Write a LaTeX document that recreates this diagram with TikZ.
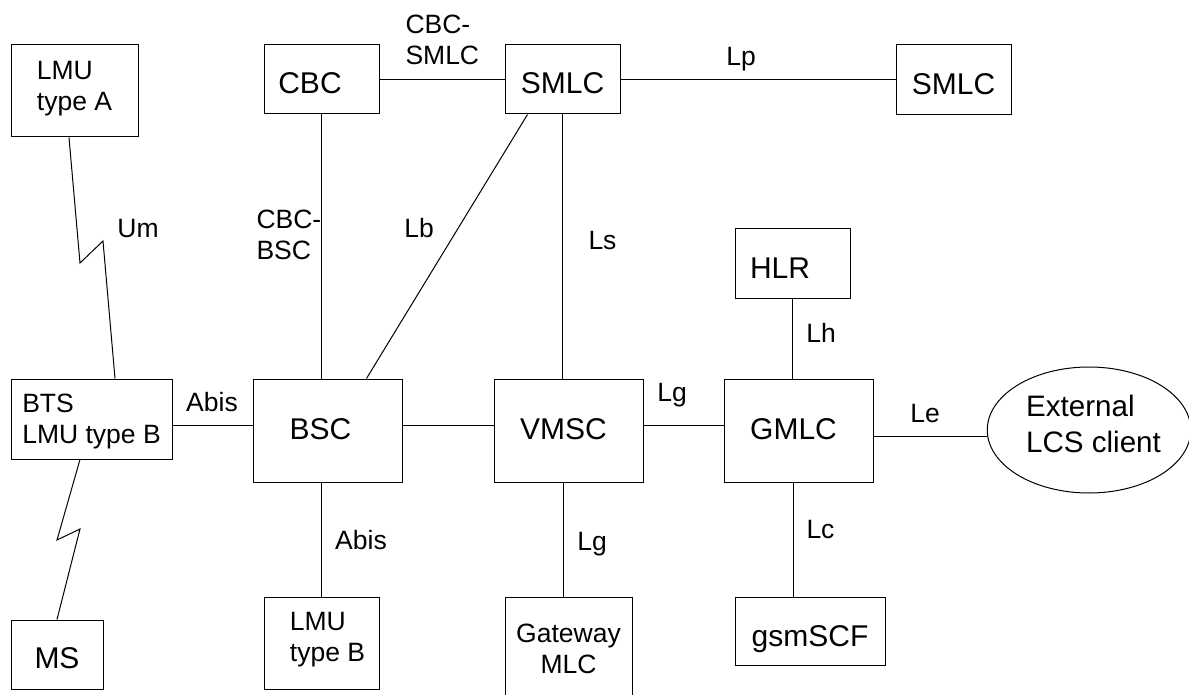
\documentclass[tikz,border=0pt]{standalone}
\usepackage{fontspec}
\setmainfont{Liberation Sans}
\usetikzlibrary{shapes.geometric,calc}
\newcommand{\bigfnt}{\fontsize{30}{34.5}\selectfont}
\newcommand{\smlfnt}{\fontsize{26.5}{31}\selectfont}
\newcommand{\extfnt}{\fontsize{29.6}{35.6}\selectfont}
\begin{document}
\begin{tikzpicture}[x=1pt,y=-1pt,line width=1pt,
  box/.style={draw,rectangle,inner sep=0pt},
  bigbox/.style={box,font=\bigfnt,text height=29pt,text depth=0pt},
  tallbox/.style={box,font=\bigfnt,text height=21.5pt,text depth=4.5pt},
  twobox/.style={box,font=\smlfnt,align=left,text height=50pt},
  lbl/.style={font=\smlfnt,inner sep=0pt,anchor=base},
  lbltwo/.style={font=\smlfnt,inner sep=0pt,align=left,anchor=north west,text height=50pt}]
\clip (0,0) rectangle (1189,695);
% boxes
\node[twobox,minimum width=127pt,minimum height=92pt,text depth=10pt] (lmuA) at (74.5,91) {LMU\\type A};
\node[bigbox,minimum width=115pt,minimum height=69pt] (cbc) at (321.5,79.5) {CBC\hspace*{23pt}};
\node[bigbox,minimum width=115pt,minimum height=69pt] (smlc) at (562.5,79.5) {SMLC};
\node[bigbox,minimum width=115pt,minimum height=70pt] (smlc2) at (953.5,80) {SMLC};
\node[bigbox,minimum width=115pt,minimum height=69pt] (hlr) at (792.5,263.5) {HLR\hspace*{25pt}};
\node[twobox,minimum width=161pt,minimum height=80pt,text depth=2pt] (bts) at (91.5,419) {BTS\\LMU type B};
\node[tallbox,minimum width=149pt,minimum height=103pt] (bsc) at (327.5,430.5) {BSC\hspace*{14pt}};
\node[tallbox,minimum width=149pt,minimum height=103pt] (vmsc) at (568.5,430.5) {VMSC\hspace*{10pt}};
\node[tallbox,minimum width=149pt,minimum height=103pt] (gmlc) at (798.5,430.5) {GMLC\hspace*{10pt}};
\node[draw,ellipse,inner sep=0pt,minimum width=202pt,minimum height=126pt,font=\extfnt,align=left,text height=57.2pt,text depth=13.2pt] (ext) at (1089,430) {\hspace*{9pt}External\\\hspace*{9pt}LCS client};
\node[twobox,minimum width=115pt,minimum height=92pt,text depth=12.6pt] (lmuB) at (321.5,643) {\hspace*{12pt}LMU\\\hspace*{12pt}type B};
\node[bigbox,minimum width=92pt,minimum height=69pt,text height=27.6pt] (ms) at (57,654.5) {MS};
\node[twobox,minimum width=127pt,minimum height=103pt,text depth=1pt,align=center] (gw) at (568.5,648.5) {Gateway\\MLC};
\node[bigbox,minimum width=150pt,minimum height=68pt,text height=30pt] (gsm) at (810,631) {gsmSCF};
% zigzag bend points
\coordinate (um1) at (80,263);
\coordinate (um2) at (103,241);
\coordinate (ms1) at (57,540);
\coordinate (ms2) at (80,529);
% connectors
\draw (cbc.east) -- (smlc.west);
\draw (smlc.east) -- (smlc.east -| smlc2.west);
\draw (cbc.south) -- (cbc.south |- bsc.north);
\draw ($(smlc.south west)+(23,0)$) -- ($(bsc.north west)+(114,0)$);
\draw (smlc.south) -- (smlc.south |- vmsc.north);
\draw (hlr.south) -- (hlr.south |- gmlc.north);
\draw ($(lmuA.south)+(-5.5,0)$) -- (um1) -- (um2) -- ($(bts.north)+(23.5,0)$);
\draw ($(bts.south)+(-11.5,0)$) -- (ms1) -- (ms2) -- (ms.north);
\draw ($(bts.east)+(0,6)$) -- ($(bsc.west |- bts.east)+(0,6)$);
\draw ($(bsc.east)+(0,-5.5)$) -- ($(vmsc.west)+(0,-5.5)$);
\draw ($(vmsc.east)+(0,-5.5)$) -- ($(gmlc.west)+(0,-5.5)$);
\draw ($(gmlc.east)+(0,5.5)$) -- ($(ext.west |- gmlc.east)+(0,5.5)$);
\draw (lmuB.north) -- (lmuB.north |- bsc.south);
\draw ($(vmsc.south)+(-5.5,0)$) -- ($(vmsc.south |- gw.north)+(-5.5,0)$);
\draw ($(gmlc.south)+(-5.5,0)$) -- ($(gmlc.south |- gsm.north)+(-5.5,0)$);
% labels
\node[lbltwo] (lcbcsmlc) at (405,14.3) {CBC-\\SMLC};
\node[lbltwo] (lcbcbsc) at (256,209) {CBC-\\BSC};
\node[lbl] (lum) at (138,238) {Um};
\node[lbl] (llb) at (419,238) {Lb};
\node[lbl] (lls) at (602.5,250) {Ls};
\node[lbl] (llp) at (741,66) {Lp};
\node[lbl] (llh) at (821,342) {Lh};
\node[lbl] (labis) at (212,411) {Abis};
\node[lbl] (llg) at (672,401) {Lg};
\node[lbl] (lle) at (925,422) {Le};
\node[lbl] (labistwo) at (361,549) {Abis};
\node[lbl] (llgtwo) at (592,550) {Lg};
\node[lbl] (llc) at (820.5,538) {Lc};
\end{tikzpicture}
\end{document}
